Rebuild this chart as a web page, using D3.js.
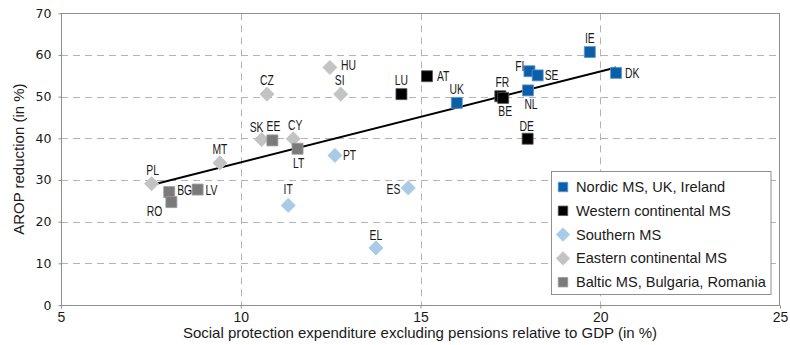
<!DOCTYPE html>
<html>
<head>
<meta charset="utf-8">
<script src="https://cdn.jsdelivr.net/npm/d3@7"></script>
<style>
  html, body { margin: 0; padding: 0; background: #fff; }
  svg { display: block; }
  .lbl { font-family: "Liberation Sans", Arial, sans-serif; font-size: 14px; fill: #1a1a1a; }
  .xtick { font-family: "Liberation Sans", Arial, sans-serif; font-size: 14px; fill: #1a1a1a; }
  .ytick { font-family: "DejaVu Sans", sans-serif; font-size: 12.5px; fill: #1a1a1a; }
  .leg { font-family: "Liberation Sans", sans-serif; font-size: 14.6px; fill: #1a1a1a; }
  .title { font-family: "Liberation Sans", sans-serif; font-size: 15px; fill: #1a1a1a; }
</style>
</head>
<body>
<svg id="chart" width="790" height="345"></svg>
<script>
// Social protection spending (excl. pensions, % of GDP) vs. at-risk-of-poverty reduction (%)
const nordicCodes = ["IE", "FI", "SE", "DK", "NL", "UK"];
const nordicSpend = [19.71, 18.03, 18.26, 20.44, 17.99, 16.01];
const nordicArop  = [60.7, 56.1, 55.1, 55.7, 51.5, 48.5];

const westernCodes = ["FR", "BE", "DE", "LU", "AT"];
const westernSpend = [17.22, 17.30, 17.98, 14.47, 15.18];
const westernArop  = [50.1, 49.7, 39.9, 50.6, 54.9];

const southernCodes = ["PT", "IT", "ES", "EL"];
const southernSpend = [12.62, 11.32, 14.66, 13.76];
const southernArop  = [35.9, 23.9, 28.1, 13.7];

const easternCodes = ["PL", "MT", "CZ", "SK", "CY", "HU", "SI"];
const easternSpend = [7.52, 9.42, 10.73, 10.58, 11.46, 12.48, 12.78];
const easternArop  = [29.1, 34.1, 50.6, 39.7, 39.9, 57.0, 50.6];

const balticCodes = ["BG", "RO", "LV", "EE", "LT"];
const balticSpend = [8.01, 8.07, 8.80, 10.88, 11.58];
const balticArop  = [27.1, 24.7, 27.7, 39.5, 37.5];

// Linear trend: [spend, arop] at the two ends of the spending range
const trendSpend = [7.52, 20.44];
const trendArop  = [28.8, 57.0];

const groupNames = ["Nordic MS, UK, Ireland", "Western continental MS", "Southern MS",
                    "Eastern continental MS", "Baltic MS, Bulgaria, Romania"];

const xTicks = [5, 10, 15, 20, 25];
const yTicks = [0, 10, 20, 30, 40, 50, 60, 70];

const xTitle = "Social protection expenditure excluding pensions relative to GDP (in %)";
const yTitle = "AROP reduction (in %)";

// ---- styling ----
const groupStyle = [
  { shape: "square",  fill: "#0b5fa8", stroke: "#5e97cf" },
  { shape: "square",  fill: "#000000", stroke: "#555555" },
  { shape: "diamond", fill: "#a9cbe6", stroke: "#a9cbe6" },
  { shape: "diamond", fill: "#c3c3c3", stroke: "#c3c3c3" },
  { shape: "square",  fill: "#7a7a7a", stroke: "#9a9a9a" }
];
const labelSqueeze = 0.74;   // condensed look for the country codes

// label side and nudge for each country
const labelPlace = {
  IE: ["t", 0, 0],  FI: ["l", 3, -5], SE: ["r", -1, 0], DK: ["r", 1, 0], NL: ["b", 3, 0], UK: ["t", 0, 0],
  FR: ["t", 2, 0],  BE: ["b", 2, -1], DE: ["t", -1, 1], LU: ["t", 0, 0], AT: ["r", 2, 0],
  PT: ["r", 0, 0],  IT: ["t", 0, -2], ES: ["l", 0, 1],  EL: ["t", 0, 1],
  PL: ["t", 1, 0],  MT: ["t", 0, 0],  CZ: ["t", 0, 0],  SK: ["t", -5, 1], CY: ["t", 2, 0], HU: ["r", 3, -2], SI: ["t", -1, 0],
  BG: ["r", 0, -2], RO: ["l", -1, 9], LV: ["r", 0, 0],  EE: ["t", 1, 0],  LT: ["b", 1, 0]
};

const groups = [
  [nordicCodes, nordicSpend, nordicArop],
  [westernCodes, westernSpend, westernArop],
  [southernCodes, southernSpend, southernArop],
  [easternCodes, easternSpend, easternArop],
  [balticCodes, balticSpend, balticArop]
];

const points = [];
groups.forEach((g, gi) => {
  g[0].forEach((c, i) => points.push({ code: c, x: g[1][i], y: g[2][i], group: gi }));
});

const svg = d3.select("#chart");
const plotLeft = 61, plotRight = 780, plotTop = 13.3, plotBottom = 305;

const x = d3.scaleLinear().domain([5, 25]).range([plotLeft, plotRight]);
const y = d3.scaleLinear().domain([0, 70]).range([plotBottom, plotTop]);

const gridColor = "#b3b3b3";
const frameColor = "#8f8f8f";

// gridlines
svg.append("g").selectAll("line").data(yTicks.slice(1, -1)).join("line")
  .attr("x1", plotLeft).attr("x2", plotRight)
  .attr("y1", d => Math.round(y(d)) + 0.5).attr("y2", d => Math.round(y(d)) + 0.5)
  .attr("stroke", gridColor).attr("stroke-width", 1).attr("stroke-dasharray", "7,5");
svg.append("g").selectAll("line").data(xTicks.slice(1, -1)).join("line")
  .attr("y1", plotTop).attr("y2", plotBottom)
  .attr("x1", d => Math.round(x(d)) + 0.5).attr("x2", d => Math.round(x(d)) + 0.5)
  .attr("stroke", gridColor).attr("stroke-width", 1).attr("stroke-dasharray", "7,5");

// frame
svg.append("rect")
  .attr("x", plotLeft + 0.5).attr("y", Math.round(plotTop) + 0.5)
  .attr("width", plotRight - plotLeft - 1).attr("height", plotBottom - Math.round(plotTop))
  .attr("fill", "none").attr("stroke", frameColor).attr("stroke-width", 1);

// axes
const xAxis = d3.axisBottom(x).tickValues(xTicks).tickSize(3).tickPadding(4).tickFormat(d3.format("d"));
const gx = svg.append("g").attr("transform", `translate(0,${plotBottom + 0.5})`).call(xAxis);
gx.select(".domain").remove();
gx.selectAll(".tick line").attr("stroke", frameColor);
gx.selectAll(".tick text").attr("class", "xtick").attr("font-size", null).attr("font-family", null)
  .attr("fill", "#1a1a1a");

const yAxis = d3.axisLeft(y).tickValues(yTicks).tickSize(3).tickPadding(7).tickFormat(d3.format("d"));
const gy = svg.append("g").attr("transform", `translate(${plotLeft + 0.5},0)`).call(yAxis);
gy.select(".domain").remove();
gy.selectAll(".tick line").attr("stroke", frameColor);
gy.selectAll(".tick text").attr("class", "ytick").attr("font-size", null).attr("font-family", null)
  .attr("fill", "#1a1a1a");

// axis titles
svg.append("text").attr("class", "title")
  .attr("x", 420).attr("y", 338).attr("text-anchor", "middle").text(xTitle);
svg.append("text").attr("class", "title")
  .attr("transform", `translate(24,${(plotTop + plotBottom) / 2}) rotate(-90)`)
  .attr("text-anchor", "middle").text(yTitle);

// trend line
svg.append("line")
  .attr("x1", x(trendSpend[0])).attr("y1", y(trendArop[0]))
  .attr("x2", x(trendSpend[1])).attr("y2", y(trendArop[1]))
  .attr("stroke", "#000").attr("stroke-width", 2);

// markers
const sq = d3.symbol().type(d3.symbolSquare).size(121);
const dm = d3.symbol().type(d3.symbolSquare).size(100);
function markerPath(shape) { return shape === "square" ? sq() : dm(); }
function markerTransform(shape, px, py) {
  return shape === "square" ? `translate(${px},${py})` : `translate(${px},${py}) rotate(45)`;
}

svg.append("g").selectAll("path").data(points).join("path")
  .attr("d", d => markerPath(groupStyle[d.group].shape))
  .attr("transform", d => markerTransform(groupStyle[d.group].shape, x(d.x), y(d.y)))
  .attr("fill", d => groupStyle[d.group].fill)
  .attr("stroke", d => groupStyle[d.group].stroke)
  .attr("stroke-width", 0.8);

// country labels
svg.append("g").selectAll("text").data(points).join("text")
  .attr("class", "lbl")
  .each(function (d) {
    const [side, dx, dy] = labelPlace[d.code];
    const px = x(d.x), py = y(d.y);
    let tx = px, ty = py, anchor = "middle";
    if (side === "t") { ty = py - 9; }
    else if (side === "b") { ty = py + 19; }
    else if (side === "r") { tx = px + 8; ty = py + 5; anchor = "start"; }
    else if (side === "l") { tx = px - 8; ty = py + 5; anchor = "end"; }
    d3.select(this)
      .attr("transform", `translate(${tx + dx},${ty + dy}) scale(${labelSqueeze},1)`)
      .attr("text-anchor", anchor).text(d.code);
  });

// legend
const legX = 551.5, legY = 171.5, legW = 219.5, legH = 123;
const leg = svg.append("g");
leg.append("rect").attr("x", legX).attr("y", legY).attr("width", legW).attr("height", legH)
  .attr("fill", "#fff").attr("stroke", frameColor).attr("stroke-width", 1);
const legItems = leg.selectAll("g.item").data(groupNames).join("g").attr("class", "item")
  .attr("transform", (d, i) => `translate(${legX + 11.5},${legY + 15.5 + i * 23.8})`);
legItems.append("path")
  .attr("d", d3.symbol().type(d3.symbolSquare).size(90)())
  .attr("transform", (d, i) => groupStyle[i].shape === "square" ? "" : "rotate(45)")
  .attr("fill", (d, i) => groupStyle[i].fill)
  .attr("stroke", (d, i) => groupStyle[i].stroke).attr("stroke-width", 0.8);
legItems.append("text").attr("class", "leg").attr("x", 13).attr("y", 5).text(d => d);
</script>
</body>
</html>
